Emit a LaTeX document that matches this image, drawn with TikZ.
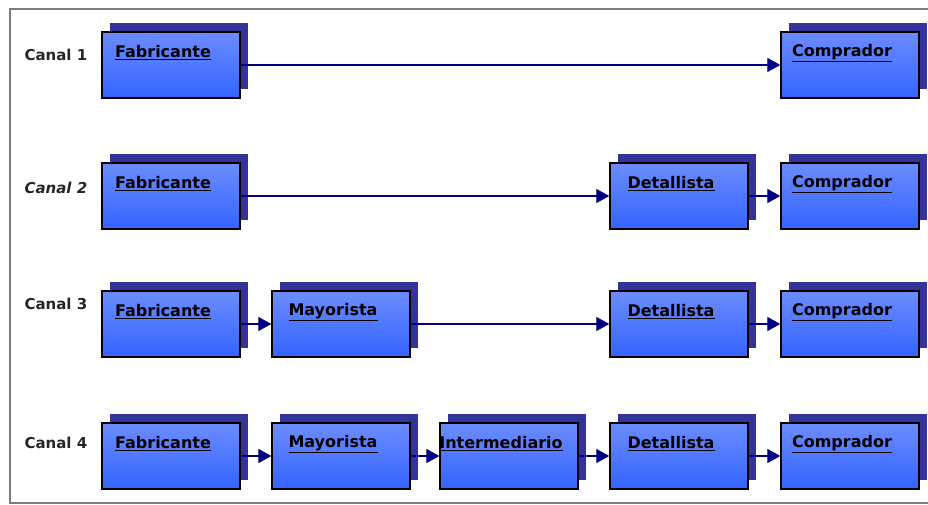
\documentclass[tikz,border=0pt]{standalone}
\usepackage{fontspec}
\setmainfont{DejaVu Sans}
\usetikzlibrary{arrows.meta,shadows}
\definecolor{sombra}{RGB}{51,51,153}
\definecolor{cajaarriba}{RGB}{108,140,255}
\definecolor{cajaabajo}{RGB}{51,100,255}
\definecolor{flecha}{RGB}{0,0,128}
\definecolor{marco}{RGB}{125,125,125}
\tikzset{>={Triangle[length=13pt,width=14pt]}}
\tikzset{
  caja/.style={draw=black, line width=1.3pt, rectangle, inner sep=0pt,
    minimum width=138pt, minimum height=66pt,
    top color=cajaarriba, bottom color=cajaabajo,
    general shadow={fill=sombra, draw=none, shadow xshift=8pt, shadow yshift=9pt},
    label={[texto]center:\underline{#1}}},
  texto/.style={font=\bfseries\fontsize{16}{19}\selectfont, text=black,
    xshift=-8pt, yshift=12pt},
  canal/.style={anchor=west, font=\bfseries\fontsize{15}{18}\selectfont,
    text=black!85},
  flujo/.style={->, draw=flecha, fill=flecha, line width=1.1pt}
}

\begin{document}
\begin{tikzpicture}[x=1pt,y=-1pt]
  \useasboundingbox (0,0) rectangle (928,505);
  % marco
  \draw[marco, line width=1.5pt] (940,9) -| (10,503) -- (940,503);

  % canal 1
  \node[canal] (c1) at (21,55) {Canal 1};
  \node[caja=Fabricante] (fab1) at (171,65) {};
  \node[caja=Comprador] (com1) at (850,65) {};
  \draw[flujo] (fab1) -- (com1);

  % canal 2
  \node[canal, font=\bfseries\itshape\fontsize{15}{18}\selectfont] (c2) at (21,188) {Canal 2};
  \node[caja=Fabricante] (fab2) at (171,196) {};
  \node[caja=Detallista] (det2) at (679,196) {};
  \node[caja=Comprador] (com2) at (850,196) {};
  \draw[flujo] (fab2) -- (det2);
  \draw[flujo] (det2) -- (com2);

  % canal 3
  \node[canal] (c3) at (21,304) {Canal 3};
  \node[caja=Fabricante] (fab3) at (171,324) {};
  \node[caja=Mayorista] (may3) at (341,324) {};
  \node[caja=Detallista] (det3) at (679,324) {};
  \node[caja=Comprador] (com3) at (850,324) {};
  \draw[flujo] (fab3) -- (may3);
  \draw[flujo] (may3) -- (det3);
  \draw[flujo] (det3) -- (com3);

  % canal 4
  \node[canal] (c4) at (21,443) {Canal 4};
  \node[caja=Fabricante] (fab4) at (171,456) {};
  \node[caja=Mayorista] (may4) at (341,456) {};
  \node[caja=Intermediario] (int4) at (509,456) {};
  \node[caja=Detallista] (det4) at (679,456) {};
  \node[caja=Comprador] (com4) at (850,456) {};
  \draw[flujo] (fab4) -- (may4);
  \draw[flujo] (may4) -- (int4);
  \draw[flujo] (int4) -- (det4);
  \draw[flujo] (det4) -- (com4);
\end{tikzpicture}
\end{document}
